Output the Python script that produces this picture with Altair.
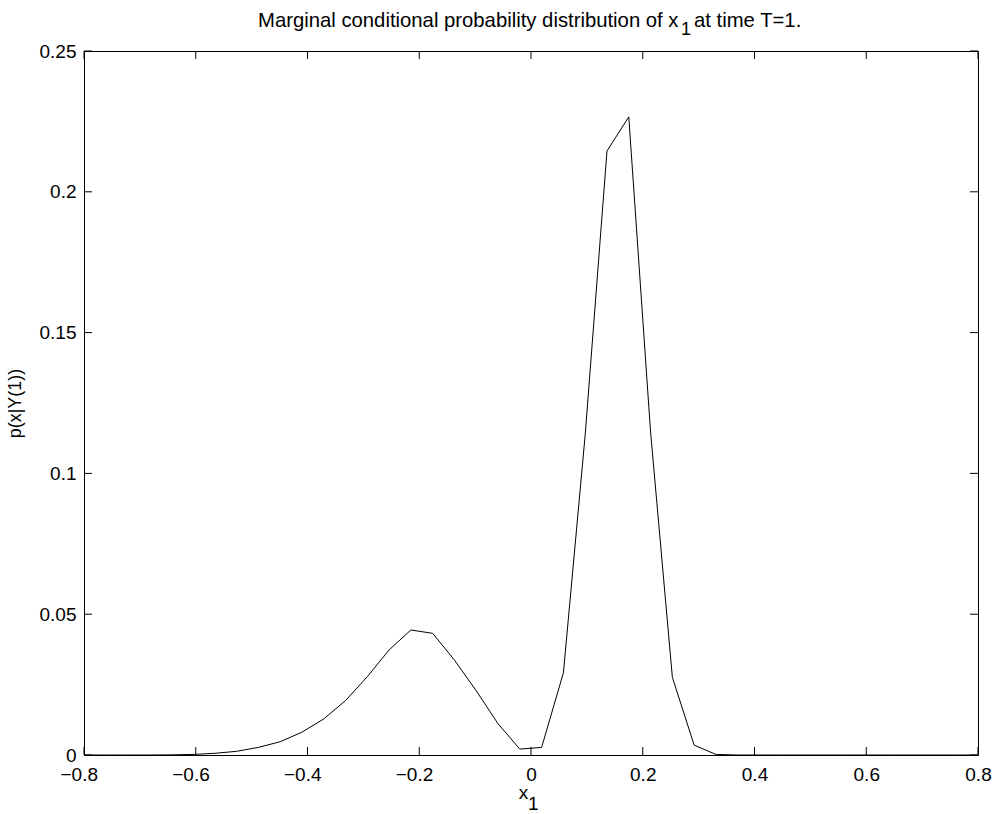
import altair as alt
import pandas as pd

# ---- data ----
x_vals = [-0.800, -0.761, -0.722, -0.683, -0.644, -0.605, -0.566, -0.527, -0.488, -0.449,
          -0.410, -0.371, -0.332, -0.293, -0.254, -0.215, -0.176, -0.137, -0.098, -0.059,
          -0.020, 0.019, 0.058, 0.097, 0.136, 0.175, 0.214, 0.253, 0.292, 0.331,
          0.370, 0.409, 0.448, 0.487, 0.526, 0.565, 0.604, 0.643, 0.682, 0.721,
          0.760, 0.799]
p_vals = [0.0, 0.0, 0.0, 0.0, 0.00005, 0.0002, 0.0006, 0.0013, 0.0027, 0.0047,
          0.0081, 0.0128, 0.0193, 0.0278, 0.0373, 0.0444, 0.0432, 0.0337, 0.0228, 0.0111,
          0.0021, 0.0027, 0.0292, 0.1137, 0.2145, 0.2266, 0.1147, 0.0276, 0.0035, 0.0002,
          0.0, 0.0, 0.0, 0.0, 0.0, 0.0, 0.0, 0.0, 0.0, 0.0,
          0.0, 0.0]

x_ticks = [-0.8, -0.6, -0.4, -0.2, 0.0, 0.2, 0.4, 0.6, 0.8]
y_ticks = [0.0, 0.05, 0.10, 0.15, 0.20, 0.25]

title_main = "Marginal conditional probability distribution of x"
title_sub = "1"
title_rest = "at time T=1."
xlabel_main = "x"
xlabel_sub = "1"
ylabel = "p(x|Y(1))"

W, H = 894, 704
FONT = "Liberation Sans"
TICK = 8

df = pd.DataFrame({"x": x_vals, "p": p_vals})
xt = pd.DataFrame({"t": x_ticks})
yt = pd.DataFrame({"t": y_ticks})

xscale = alt.Scale(domain=[-0.8, 0.8], nice=False, zero=False)
yscale = alt.Scale(domain=[0, 0.25], nice=False, zero=False)

line = alt.Chart(df).mark_line(color="black", strokeWidth=1).encode(
    x=alt.X("x:Q", scale=xscale,
            axis=alt.Axis(values=x_ticks, format="~g", ticks=False, domain=False,
                          grid=False, labelPadding=10, title=None,
                          labelAlign={"condition": {"test": "datum.value < 0", "value": "right"},
                                      "value": "center"},
                          labelOffset={"condition": {"test": "datum.value < 0", "value": 13.5},
                                       "value": 0},
                          labelFontSize=19, labelFont=FONT, labelColor="black")),
    y=alt.Y("p:Q", scale=yscale,
            axis=alt.Axis(values=y_ticks, format="~g", ticks=False, domain=False,
                          grid=False, labelPadding=8, title=ylabel,
                          titleFontSize=18, titleFont=FONT, titleFontWeight="normal",
                          titleColor="black", titleAngle=270, titleX=-64, titleY=H / 2,
                          titleAlign="center", titleBaseline="alphabetic",
                          labelFontSize=19, labelFont=FONT, labelColor="black")),
)

# inward ticks on all four sides (MATLAB style)
xt_bottom = alt.Chart(xt).mark_rule(color="black", strokeWidth=1).encode(
    x=alt.X("t:Q", scale=xscale), y=alt.value(H), y2=alt.value(H - TICK))
xt_top = alt.Chart(xt).mark_rule(color="black", strokeWidth=1).encode(
    x=alt.X("t:Q", scale=xscale), y=alt.value(0), y2=alt.value(TICK))
yt_left = alt.Chart(yt).mark_rule(color="black", strokeWidth=1).encode(
    y=alt.Y("t:Q", scale=yscale), x=alt.value(0), x2=alt.value(TICK))
yt_right = alt.Chart(yt).mark_rule(color="black", strokeWidth=1).encode(
    y=alt.Y("t:Q", scale=yscale), x=alt.value(W), x2=alt.value(W - TICK))


def txt(s, x, y, align, size=19):
    return alt.Chart(pd.DataFrame({"s": [s]})).mark_text(
        align=align, baseline="alphabetic", font=FONT, fontSize=size, color="black"
    ).encode(text="s:N", x=alt.value(x), y=alt.value(y))


t1 = txt(title_main, 594.5, -24, "right", 20.3)
t2 = txt(title_sub, 597, -16, "left", 18)
t3 = txt(title_rest, 610, -24, "left", 20.3)
xl1 = txt(xlabel_main, 439.5, 748, "center")
xl2 = txt(xlabel_sub, 444, 759, "left")

chart = alt.layer(
    line, xt_bottom, xt_top, yt_left, yt_right, t1, t2, t3, xl1, xl2
).properties(
    width=W, height=H,
    autosize=alt.AutoSizeParams(type="none"),
    padding={"left": 84, "top": 51, "right": 19, "bottom": 59},
    background="white",
).configure_view(
    stroke="black", strokeWidth=1, fill="white"
)

chart.save("out.html", embed_options={"renderer": "svg", "actions": False})
